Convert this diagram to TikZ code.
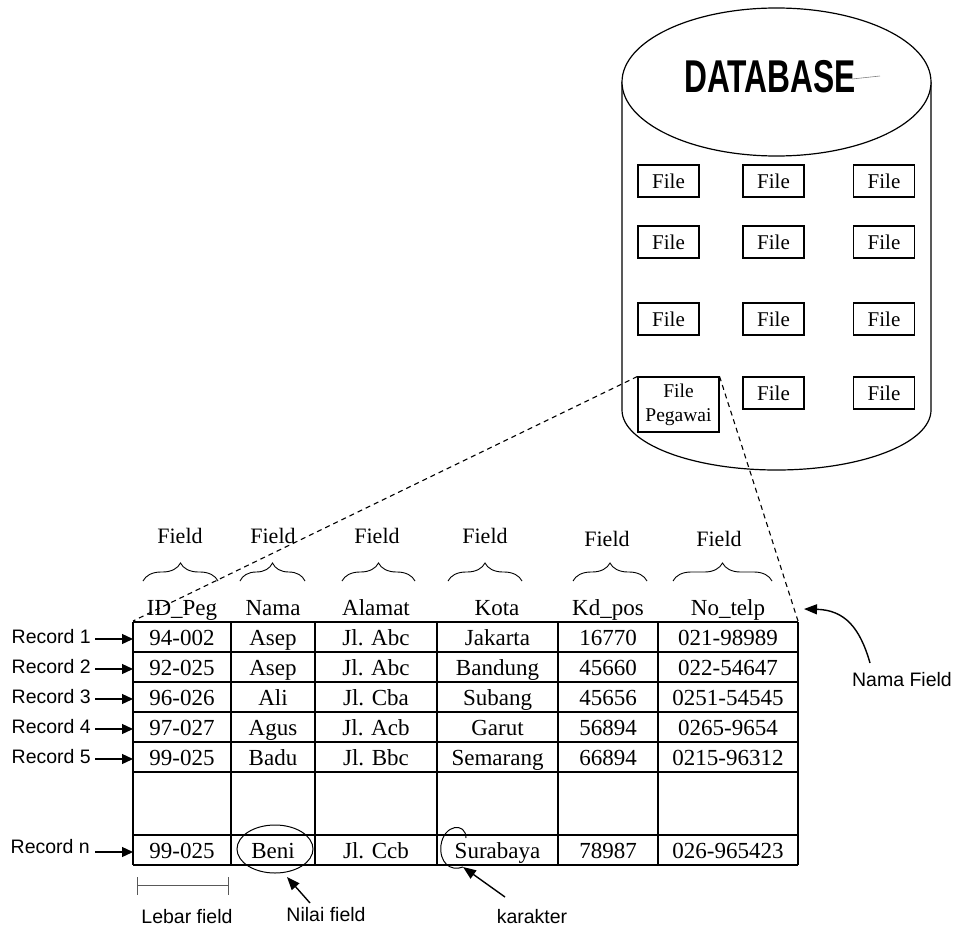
\documentclass[tikz,border=0pt]{standalone}
\usepackage{fontspec}
\setmainfont{Liberation Serif}
\newfontfamily\arialf{Liberation Sans}
\usetikzlibrary{arrows.meta,decorations.pathreplacing}
\begin{document}
\begin{tikzpicture}[x=1pt,y=1pt,
  tbl/.style={line width=1.3pt},
  cell/.style={font=\fontsize{23}{27}\selectfont, inner sep=0pt, anchor=base},
  fieldlbl/.style={font=\fontsize{22}{26}\selectfont, inner sep=0pt, anchor=base},
  filebox/.style={draw, line width=1.1pt, minimum width=61pt, minimum height=32pt, inner sep=0pt, font=\fontsize{21}{24}\selectfont},
  sanslbl/.style={font=\arialf\fontsize{19.5}{23}\selectfont, inner sep=0pt},
  recarrow/.style={line width=1.3pt, -{Triangle[length=11pt,width=10pt]}},
  brc/.style={decorate, decoration={brace, amplitude=18pt, aspect=0.5}, line width=0.9pt},
  ptr/.style={line width=1.4pt, -{Triangle[length=13pt,width=10pt]}},
  dsh/.style={dash pattern=on 5pt off 4pt, line width=1.1pt},
  hand/.style={line width=1pt}
]
\useasboundingbox (0,0) rectangle (955,-928);

% ---------- database cylinder ----------
\draw[line width=1.2pt] (622,-82) -- (622,-410)
  arc[start angle=180, end angle=360, x radius=154.5pt, y radius=60pt] -- (931,-82);
\draw[line width=1.2pt, fill=white] (776.5,-82) ellipse [x radius=154.5pt, y radius=74pt];
\node[inner sep=0pt] (db) at (770,-77)
  {\scalebox{0.69}[1]{\arialf\bfseries\fontsize{46}{50}\selectfont DATABASE}};
\draw[gray, line width=0.6pt] (852,-79) -- (880,-76);

% file boxes
\foreach \r/\y in {1/181,2/242,3/319}{
  \node[filebox] (f\r a) at (668.5,-\y) {File};
  \node[filebox] (f\r b) at (773.5,-\y) {File};
  \node[filebox] (f\r c) at (884,-\y) {File};
}
\node[filebox, minimum width=81pt, minimum height=55pt, align=center,
      font=\fontsize{19.5}{24}\selectfont] (fp) at (678.5,-404.5) {File\\Pegawai};
\node[filebox] (f4b) at (773.5,-393) {File};
\node[filebox] (f4c) at (884,-393) {File};

% ---------- table ----------
\foreach \y in {622,652,682,712,742,772,835,865}
  \draw[tbl] (133,-\y) -- (798,-\y);
\foreach \x in {133,231,315,437,558,658,798}
  \draw[tbl] (\x,-622) -- (\x,-865);

% headers
\node[cell] (h1) at (182,-615) {ID\_Peg};
\node[cell] (h2) at (273,-615) {Nama};
\node[cell] (h3) at (376,-615) {Alamat};
\node[cell] (h4) at (497,-615) {Kota};
\node[cell] (h5) at (608,-615) {Kd\_pos};
\node[cell] (h6) at (728,-615) {No\_telp};

% field labels and braces
\node[fieldlbl] (fl1) at (180,-543) {Field};
\node[fieldlbl] (fl2) at (273,-543) {Field};
\node[fieldlbl] (fl3) at (377,-543) {Field};
\node[fieldlbl] (fl4) at (485,-543) {Field};
\node[fieldlbl] (fl5) at (607,-546) {Field};
\node[fieldlbl] (fl6) at (719,-546) {Field};
\draw[brc] (143,-581) -- (218,-581);
\draw[brc] (240,-581) -- (305,-581);
\draw[brc] (342,-581) -- (415,-581);
\draw[brc] (448,-581) -- (522,-581);
\draw[brc] (573,-581) -- (647,-581);
\draw[brc] (673,-581) -- (772,-581);

% data rows (baselines)
\foreach \y/\a/\b/\c/\d/\e/\f in {
  645/94-002/Asep/Jl. Abc/Jakarta/16770/021-98989,
  675/92-025/Asep/Jl. Abc/Bandung/45660/022-54647,
  705/96-026/Ali/Jl. Cba/Subang/45656/0251-54545,
  735/97-027/Agus/Jl. Acb/Garut/56894/0265-9654,
  765/99-025/Badu/Jl. Bbc/Semarang/66894/0215-96312,
  858/99-025/Beni/Jl. Ccb/Surabaya/78987/026-965423}{
  \node[cell] at (182,-\y) {\a};
  \node[cell] at (273,-\y) {\b};
  \node[cell] at (376,-\y) {\c};
  \node[cell] at (497.5,-\y) {\d};
  \node[cell] at (608,-\y) {\e};
  \node[cell] at (728,-\y) {\f};
}

% record labels
\foreach \n/\y in {1/637,2/667,3/697,4/727,5/757}{
  \node[sanslbl, anchor=east] (rec\n) at (91,-\y) {Record \n};
  \coordinate (r\n) at (133,-\y-2);
  \draw[recarrow] ([xshift=4pt] rec\n.east |- r\n) -- (r\n);
}
\node[sanslbl, anchor=east] (recn) at (90,-847) {Record n};
\coordinate (rn) at (133,-852);
\draw[recarrow] ([xshift=5pt] recn.east |- rn) -- (rn);

% dashed projection lines
\coordinate (tl) at (133,-621);
\coordinate (tr) at (798,-621);
\draw[dsh] (fp.north west) -- (tl);
\draw[dsh] (fp.north east) -- (tr);

% Nama Field
\node[sanslbl] (namaf) at (902,-680) {Nama Field};
\coordinate (nfs) at (870,-663);
\coordinate (nft) at (804,-609);
\draw[ptr] (nfs) .. controls (860,-628) and (845,-610) .. (nft);

% Lebar field
\draw[gray!70!black, line width=1pt] (137,-877) -- (137,-895) (137,-885) -- (228,-885) (228,-877) -- (228,-895);
\node[sanslbl] (lebar) at (187,-917) {Lebar field};

% Nilai field
\draw[hand] (275,-849) ellipse [x radius=38pt, y radius=24pt];
\node[sanslbl] (nilai) at (326,-915) {Nilai field};
\coordinate (nis) at (310,-903);
\coordinate (nit) at (287,-877);
\draw[ptr] (nis) -- (nit);

% karakter
\draw[hand] (466,-838) .. controls (466,-822) and (444,-824) .. (441,-845)
  .. controls (439,-862) and (450,-872) .. (463,-867);
\node[sanslbl] (kar) at (532,-917) {karakter};
\coordinate (ks) at (505,-897);
\coordinate (kt) at (463,-867);
\draw[ptr] (ks) -- (kt);
\end{tikzpicture}
\end{document}
